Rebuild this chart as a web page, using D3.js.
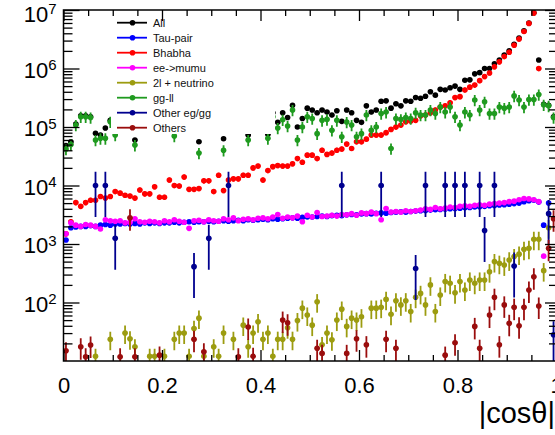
<!DOCTYPE html>
<html><head><meta charset="utf-8">
<script src="https://cdn.jsdelivr.net/npm/d3@7/dist/d3.min.js"></script>
<style>body{margin:0;background:#fff}svg{display:block}</style>
</head><body><svg id="c" width="555" height="435"></svg>
<script>
// ---------------- DATA ----------------
const nBins = 100;
const binCenters = d3.range(nBins).map(i => (i + 0.5) / nBins);
const xTickValues = [0, 0.2, 0.4, 0.6, 0.8, 1];
const yTickValues = [1e2, 1e3, 1e4, 1e5, 1e6, 1e7];
const legendLabels = ["All", "Tau-pair", "Bhabha", "ee->mumu", "2l + neutrino", "gg-ll", "Other eg/gg", "Others"];
const xTitle = "|cos\u03b8|";

const allVals = [48000,56000,112000,155000,155000,150000,78000,73000,96000,130000,
 82000,145000,150000,140000,60000,150000,160000,145000,115000,155000,
 112000,145000,85000,150000,160000,145000,155000,56000,150000,165000,
 115000,150000,63000,118000,160000,150000,170000,73000,160000,170000,
 150000,75000,175000,120000,175000,145000,235000,100000,140000,210000,
 195000,175000,195000,180000,160000,190000,125000,195000,175000,130000,
 120000,230000,180000,195000,275000,280000,210000,250000,230000,280000,
 275000,320000,310000,335000,400000,350000,440000,430000,470000,500000,
 440000,630000,640000,810000,850000,1000000,1000000,1200000,1400000,1700000,
 2000000,2600000,3300000,4400000,6000000,9000000,1400000,245000,235000,150000];

const tauVals = [1170,1900,1950,2000,2000,2050,2000,2100,2150,2100,
 2200,2200,2250,2200,2250,2200,2300,2250,2300,2250,
 2300,2300,2350,2300,2350,2400,2350,2400,2400,2450,
 2400,2450,2500,2450,2500,2550,2500,2600,2550,2600,
 2650,2600,2700,2650,2700,2750,2800,2750,2850,2900,
 2900,2950,3000,2950,3050,3100,3050,3150,3200,3150,
 3250,3300,3250,3350,3400,3350,3450,3500,3550,3500,
 3600,3650,3700,3750,3800,3850,3900,3950,4000,4050,
 4100,4150,4200,4300,4350,4400,4500,4550,4650,4700,
 4800,4900,5000,5300,5500,5600,5200,2100,5000,null];

const bhabhaVals = [1500,2400,5100,4400,5100,5600,5600,6500,6100,6500,
 7900,7400,6800,6600,6100,8400,7200,7200,9500,6300,
 6300,12400,10000,9800,14000,8600,8600,8900,12000,12000,
 7900,15000,8200,12400,13000,13000,15000,15000,20000,21500,
 12400,18000,21000,22000,21500,21500,23500,29000,25000,33000,
 33000,29000,40000,34000,36000,40000,42000,51000,43000,56000,
 56000,62000,73000,73000,73000,80000,91000,100000,108000,123000,
 127000,130000,155000,160000,175000,195000,220000,230000,260000,320000,
 330000,430000,480000,520000,620000,730000,840000,1070000,1300000,1600000,
 1900000,2500000,3200000,4300000,5900000,8900000,1000000,null,null,null];

const mumuVals = [1500,2300,2100,2000,2150,2100,2000,1800,2600,2500,
 2450,2500,2300,2350,2700,2400,2350,2450,2400,2300,
 2500,2400,2600,2450,2350,1850,2500,2550,2400,2600,
 2500,2450,2700,2600,2800,2500,2650,2700,2600,2750,
 2800,2700,2900,3200,2750,2900,2800,3000,2400,3100,
 2900,3450,2950,3000,3100,3000,3200,3150,3300,3100,
 3400,3300,3500,3300,2600,4050,3500,3600,3500,3700,
 3600,3700,3800,4000,3900,4200,4000,4100,4300,4200,
 4400,4500,4400,4600,4700,4600,4800,4900,5000,5100,
 5300,5400,5700,6000,5900,5700,5300,620,null,null];

const twoLepNuVals = [null,null,null,null,null,null,12,null,null,23.5,
 null,null,30,24,17.5,null,null,12,12,null,
 12,null,23.5,30,30,12,36,54,12,null,
 17.5,12,30,null,23.5,null,41,17.5,30,47,
 23.5,30,12,23.5,23.5,37,23.5,49,80,61,
 41,103,19,30,23,50,77,39,54,50,
 57,null,80,80,83,113,63,107,91,107,
 70,123,143,91,200,70,134,228,213,147,
 228,163,242,213,242,242,336,500,468,438,
 533,610,670,810,845,1200,1200,350,1900,null];

const ggllVals = [42000,50000,108000,150000,150000,145000,60000,64000,64000,123000,
 73000,130000,140000,125000,49000,135000,150000,130000,100000,140000,
 100000,125000,70000,135000,145000,130000,140000,36000,135000,150000,
 100000,130000,40000,100000,140000,130000,150000,60000,135000,145000,
 130000,64000,150000,96000,133000,104000,195000,60000,100000,150000,
 140000,77000,130000,135000,88000,130000,68000,122000,108000,68000,
 77000,160000,88000,100000,170000,180000,43000,140000,135000,145000,
 140000,175000,160000,160000,195000,170000,220000,180000,220000,150000,
 108000,180000,160000,290000,195000,270000,170000,170000,220000,210000,
 220000,340000,290000,220000,295000,295000,360000,240000,230000,145000];

const otherEgBins = [6,8,10,26,29,33,56,64,71,73,77,79,81,84,85,87,91,98,99];
const otherEgVals = [10000,10000,1250,410,1250,10000,10000,10000,380,10000,10000,10000,10000,10000,1700,10000,420,3300,28];

const othersBins = [0,3,4,5,11,13,14,19,26,28,35,37,38,44,45,51,52,57,59,61,65,67,77,79,83,84,86,87,88,89,90,91,92,93,94,95,96,98,99];
const othersVals = [15,17.5,11.8,18.8,11.8,2800,11.8,12.6,23.5,14.4,11.8,38,12,50,45,16.5,13.5,13.5,24,19,23.5,16.5,12.6,20.5,39,16.5,61,123,19,91,44,83,40,83,163,275,87,845,2700];

// relative (linear) uncertainty of each series
const relErrors = [0.08, 0.06, 0.1, 0.06, 0.35, 0.22, 0.71, 0.4];

// ---------------- STYLE ----------------
const colors = ["#000000", "#0000ff", "#ff0000", "#ff00ff", "#9c9c10", "#1f9a1f", "#00008f", "#9a0d0d"];

const W = 555, H = 435;
const M = {left: 63.5, right: 556, top: 10, bottom: 361};
const svg = d3.select("#c");
const x = d3.scaleLinear().domain([0, 1]).range([M.left, M.right]);
const y = d3.scaleLog().domain([10, 1e7]).range([M.bottom, M.top]);

const dense = arr => arr.map((v, i) => ({bin: i, v}));
const sparse = (bins, vals) => bins.map((b, k) => ({bin: b, v: vals[k]}));
const series = [
  dense(allVals), dense(tauVals), dense(bhabhaVals), dense(mumuVals),
  dense(twoLepNuVals), dense(ggllVals),
  sparse(otherEgBins, otherEgVals), sparse(othersBins, othersVals)
];

svg.append("rect").attr("width", W).attr("height", H).attr("fill", "#fff");
svg.append("defs").append("clipPath").attr("id", "clip")
  .append("rect").attr("x", M.left).attr("y", M.top)
  .attr("width", M.right - M.left).attr("height", M.bottom - M.top);

const plot = svg.append("g").attr("clip-path", "url(#clip)");
const halfBin = (x(1 / nBins) - x(0)) / 2;

series.forEach((s, si) => {
  const g = plot.append("g");
  const pts = s.filter(d => d.v != null && d.v > 0);
  const r = relErrors[si];
  pts.forEach(d => {
    const cx = x(binCenters[d.bin]);
    const hi = d.v * (1 + r), lo = Math.max(d.v * (1 - r), 1);
    g.append("line").attr("x1", cx).attr("x2", cx)
      .attr("y1", y(Math.min(hi, 1e8))).attr("y2", Math.min(y(lo), M.bottom + 5))
      .attr("stroke", colors[si]).attr("stroke-width", 1.8);
    if (d.v >= 10) {
      g.append("line").attr("x1", cx - halfBin).attr("x2", cx + halfBin)
        .attr("y1", y(d.v)).attr("y2", y(d.v))
        .attr("stroke", colors[si]).attr("stroke-width", 1.8);
      g.append("circle").attr("cx", cx).attr("cy", y(d.v)).attr("r", 2.8)
        .attr("fill", colors[si]);
    }
  });
});

// legend (white box covering data beneath)
const font = "Liberation Sans, Arial, Helvetica, sans-serif";
const leg = svg.append("g");
leg.append("rect").attr("x", 111).attr("y", 15).attr("width", 164).attr("height", 119).attr("fill", "#fff");
legendLabels.forEach((lab, i) => {
  const ly = 22.7 + i * 15;
  leg.append("line").attr("x1", 117).attr("x2", 147).attr("y1", ly).attr("y2", ly)
    .attr("stroke", colors[i]).attr("stroke-width", 1.8);
  leg.append("circle").attr("cx", 132.5).attr("cy", ly).attr("r", 2.8).attr("fill", colors[i]);
  leg.append("text").attr("x", 153).attr("y", ly + 4)
    .attr("font-family", font).attr("font-size", 11).attr("fill", "#111").text(lab);
});

// axes
const xMinor = d3.range(0, 1.0001, 0.05).filter(v => Math.abs(v * 5 - Math.round(v * 5)) > 1e-6);
const yMinor = [];
for (let e = 1; e < 7; e++) for (let k = 2; k <= 9; k++) yMinor.push(k * Math.pow(10, e));

function styleAxis(g) {
  g.select(".domain").remove();
  g.selectAll(".tick line").attr("stroke", "#000").attr("stroke-width", 1.3);
}

svg.append("g").attr("transform", `translate(0,${M.bottom})`)
  .call(d3.axisBottom(x).tickValues(xTickValues).tickSize(-11).tickPadding(16)
    .tickFormat(d => d === 0 ? "0" : d === 1 ? "1" : d3.format(".1f")(d)))
  .call(styleAxis)
  .call(g => g.selectAll("text").attr("font-family", font).attr("font-size", 22).attr("fill", "#000"));
svg.append("g").attr("transform", `translate(0,${M.bottom})`)
  .call(d3.axisBottom(x).tickValues(xMinor).tickSize(-6).tickFormat(""))
  .call(styleAxis);
svg.append("g").attr("transform", `translate(0,${M.top})`)
  .call(d3.axisTop(x).tickValues(xTickValues).tickSize(-11).tickFormat(""))
  .call(styleAxis);
svg.append("g").attr("transform", `translate(0,${M.top})`)
  .call(d3.axisTop(x).tickValues(xMinor).tickSize(-6).tickFormat(""))
  .call(styleAxis);

svg.append("g").attr("transform", `translate(${M.left},0)`)
  .call(d3.axisLeft(y).tickValues(yTickValues).tickSize(-16).tickPadding(7)
    .tickFormat(d => String(Math.round(Math.log10(d)))))
  .call(styleAxis)
  .call(g => g.selectAll("text").each(function (d) {
    const t = d3.select(this);
    const e = t.text();
    t.text("").attr("font-family", font).attr("font-size", 22).attr("fill", "#000")
      .attr("dy", d >= 1e7 ? "0.5em" : "0.4em");
    t.append("tspan").text("10");
    t.append("tspan").attr("dy", "-0.5em").attr("font-size", 15).text(e);
  }));
svg.append("g").attr("transform", `translate(${M.left},0)`)
  .call(d3.axisLeft(y).tickValues(yMinor).tickSize(-9).tickFormat(""))
  .call(styleAxis);
svg.append("g").attr("transform", `translate(${M.right},0)`)
  .call(d3.axisRight(y).tickValues(yTickValues).tickSize(-11).tickFormat(""))
  .call(styleAxis);
svg.append("g").attr("transform", `translate(${M.right},0)`)
  .call(d3.axisRight(y).tickValues(yMinor).tickSize(-7).tickFormat(""))
  .call(styleAxis);

// frame
svg.append("rect").attr("x", M.left).attr("y", M.top)
  .attr("width", M.right - M.left).attr("height", M.bottom - M.top)
  .attr("fill", "none").attr("stroke", "#000").attr("stroke-width", 1.5);

// axis title
svg.append("text").attr("x", 555).attr("y", 423).attr("text-anchor", "end")
  .attr("font-family", font).attr("font-size", 29).attr("fill", "#000").text(xTitle);
</script></body></html>
